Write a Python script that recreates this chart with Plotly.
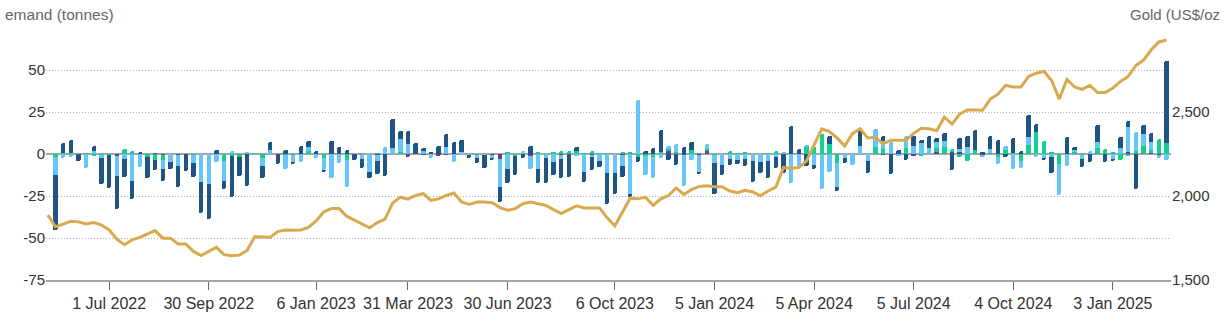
import pandas as pd
import plotly.graph_objects as go

# Weekly dates (Fridays)
bar_dates = pd.date_range("2022-05-13", periods=146, freq="7D")
line_dates = pd.date_range("2022-05-06", periods=147, freq="7D")

other = [0, 0, 0, -0.3, 0, 0, 0, 0, -1, 0,
         0, 0, 0, 0.5, -0.3, 0, -0.4, 0, 0, 0,
         0, 0, 0, 0, 0, 0, 0, 0, 0, -0.3,
         0, 0, 0, 0, 0, 0, 0.5, 0.5, 0, -0.3,
         0, 0, -0.7, 0, 0, 0, -1.5, 0, -0.4, 0,
         -1.2, -0.5, 0, 0, 0, 0, 0, -0.5, -3, 0,
         0, 0, -1, 0, 0, 0, -0.5, -0.5, 0, 0,
         -0.4, 0, 0, 0, -0.4, 0, 0, 0, 0, 0,
         1.5, -0.5, -0.8, 0, -0.8, 1.5, 0, 0, 0, 0,
         0, 0, 0, 0, 0, -0.3, 0, 0, 0, 0,
         0, 0, 0, 0, 0, 0, 0, 0, -0.5, 0,
         0, 0, -1, 0, 0, 1, 0.3, 1, 1, 0,
         0, -0.3, 0.3, 0.5, 0, 0, 0, 0, 0, 0,
         0, 0, 0, 0, 0, 0, 0.3, 0, 0, 0,
         1, 0, 0, 0.8, -0.3, 0]
asia = [-1.5, 0.5, 0.5, 0, 0.3, -0.7, -0.5, -0.3, 0, 3,
        2, 0, -2, -3.5, -3, 0, 0, 0, -0.5, 0,
        0, 0, -4.3, -1, -1.5, 0, 0.5, -2.3, 0, 0,
        -0.7, -0.8, 0, 2, 0, -2.3, 0, 0, -3.5, 0,
        -0.5, 0, 0.5, 0, 0, 1.4, 0, 0, 0, 0,
        0, 0, 0, 0, 0, -0.4, 0, 0, 0, 1,
        -1.4, 0, 0, 1, 0, 0.8, 1.6, 2, 2, 0.5,
        2, 0.3, 0.3, 0, 1.4, 1, -1.5, -1.4, -2, 1,
        1.2, 1, 0, 2.3, 0.5, 1.2, -0.5, 0, 1.5, 0.5,
        1, 0, 0, 0.4, 1.5, 0, 0.3, 0, 4.5, 4,
        11.7, 6, -5.2, 0, 0, 0, 0, 4, 3, 0,
        0, 3.3, 0, -1.3, 0.3, 2.7, 3.9, 2, -1.5, -3.9,
        2.3, 0, 0.4, -1.5, 2.3, 0.4, -3.9, 5.3, 13.3, 7.8,
        1, -6.2, 0, 1, -0.6, 0, 3.3, 2.9, 1, -3.7,
        -1, 1.5, 4.5, 1.4, 8.8, 6.8]
europe = [-11, -2.5, -1.5, 0, -8.5, 1.5, -2, 0, -12, -3,
          -16, -8, 0, 0, -5.7, -5, -7, 0, -5, -16.6,
          -17.8, -4.5, -11.7, 1.5, 0, 1, -0.3, -4.7, 2.5, 0,
          -8, -4, -4.5, 2, -2.5, -7.4, -14, -5.5, -16, 0,
          -2.5, -11, -3.5, 4, 3.5, 7.6, 5.8, 0, 1.5, -2.3,
          0.3, 4, -4.5, 1.2, -0.8, -2, -0.8, -2.2, -16.4, -9,
          0, 1.6, -8, -9, -2.5, -5, -2.5, 0, -0.6, -11,
          -1.4, -4.3, -11.5, -11.5, -6.7, -23.8, 32, -11.3, -12.5, -2.5,
          2, 4.7, -18.5, -3.3, -9.7, 3.3, -5, -6.3, -3, -3.3,
          -3, -4.3, -4.5, -4, -2, 1.4, -17.5, -7, 0.8, -6.8,
          -21, -10.5, -14.6, -2.2, -6.3, 4.5, -4, 10.8, 4.5, 7,
          -1, 7.4, 4.9, 6.4, 3.3, 3.5, 3.5, 0, 1.7, 3.9,
          0, -1.5, 2.5, -4.3, 2.5, -8.8, -4.7, 5.1, -2, -2.5,
          -1.5, -18.2, -7.4, 1.6, -2.3, 2, 3.5, 0, -3, 3.3,
          15, 11.5, 7.6, 4.9, -2.2, -3.5]
north_america = [-33, 6, 8, -4, 0, 3.5, -15.5, -20, -19.5, -10.5,
                 -10.5, 1.3, -12.5, -6, -6.8, -3.7, -12, -10.4, -8, -18.4,
                 -20.7, 2.5, -5, -24.5, -11.8, -19, 0, -7, 4.5, -5.5,
                 2.3, -1, 5, 4, 1.5, -0.5, 7, 3.5, 2.5, -3.5,
                 -5.3, -3, -7.6, -13, 17.5, 4.7, 7.8, 6.8, 1.8, 1,
                 4.3, 8.2, 7.4, 7, -1.5, -3, -7.5, -0.5, -9.4, -8,
                 -11, -2.3, 4.5, -8.5, -15, -7.5, -11, -13, 2.3, -5.7,
                 -7.8, -3.3, -18, -12.3, -6.5, -1.6, -3, 2, 3.5, 13,
                 -3.5, -6, 4, 5, -1.2, 0, -18.5, -6.3, -3.5, -2.7,
                 -4.3, -12.5, -7, -10, -6.5, -11, 16.6, 3, -7, -2,
                 0, 4.8, -2.1, -3, 0, 9.5, -7.5, 0, 3.2, -12,
                 2.5, -3.5, 5.8, 2, 7, 2.5, 4.7, -9.5, 7, 6.8,
                 11.7, 1, 7.8, 7.8, -1.5, 9.4, 2, 12.7, 4.3, -1.2,
                 -9.8, 0, 10.2, 1.4, -5, -4.5, 10.4, -4.5, -0.8, 7,
                 3.5, -21, 5, 5.3, 0, 48.4]

gold_price = [1886,
              1817, 1833, 1850, 1846, 1833, 1842, 1827, 1798, 1743, 1710,
              1739, 1754, 1774, 1794, 1749, 1749, 1715, 1715, 1670, 1645,
              1670, 1694, 1651, 1645, 1648, 1676, 1758, 1754, 1754, 1788,
              1798, 1796, 1798, 1813, 1852, 1905, 1925, 1925, 1880, 1856,
              1831, 1811, 1842, 1862, 1958, 1993, 1981, 2003, 2014, 1974,
              1983, 2003, 2018, 1964, 1950, 1964, 1964, 1960, 1931, 1915,
              1925, 1954, 1964, 1954, 1944, 1919, 1895, 1919, 1942, 1929,
              1929, 1929, 1870, 1821, 1905, 1987, 1983, 1993, 1944, 1983,
              2003, 2048, 2009, 2038, 2057, 2061, 2055, 2055, 2030, 2020,
              2034, 2024, 2001, 2030, 2053, 2169, 2165, 2169, 2208, 2306,
              2400, 2384, 2346, 2297, 2371, 2400, 2346, 2350, 2310, 2332,
              2334, 2332, 2373, 2403, 2400, 2388, 2469, 2428, 2487, 2512,
              2512, 2510, 2577, 2606, 2659, 2649, 2649, 2712, 2731, 2743,
              2688, 2577, 2694, 2649, 2635, 2659, 2616, 2616, 2643, 2682,
              2712, 2777, 2809, 2870, 2917, 2929]

x_tick_dates = ["2022-07-01", "2022-09-30", "2023-01-06", "2023-03-31", "2023-06-30",
                "2023-10-06", "2024-01-05", "2024-04-05", "2024-07-05", "2024-10-04",
                "2025-01-03"]
x_tick_labels = ["1 Jul 2022", "30 Sep 2022", "6 Jan 2023", "31 Mar 2023", "30 Jun 2023",
                 "6 Oct 2023", "5 Jan 2024", "5 Apr 2024", "5 Jul 2024", "4 Oct 2024",
                 "3 Jan 2025"]
y_ticks = [-75, -50, -25, 0, 25, 50, 75]
y_tick_labels = ["-75", "-50", "-25", "0", "25", "50", ""]
y2_ticks = [1500, 2000, 2500, 3000]
y2_tick_labels = ["1,500", "2,000", "2,500", ""]
left_title = "emand (tonnes)"
right_title = "Gold (US$/oz"

FONT = "Liberation Sans, Arial, Helvetica, sans-serif"
bar_w = 4.0 * 86400000

series = [
    ("Other", other, "#6b3d8d"),
    ("Asia", asia, "#12d08e"),
    ("Europe", europe, "#66c6fc"),
    ("North America", north_america, "#1f5582"),
]

fig = go.Figure()
for name, vals, col in series:
    fig.add_trace(go.Bar(x=bar_dates, y=vals, name=name, marker_color=col,
                         marker_line_width=0, width=bar_w, yaxis="y"))

fig.add_trace(go.Scatter(x=line_dates, y=gold_price, name="Gold", mode="lines",
                         line=dict(color="#d8aa4f", width=3), yaxis="y2"))

fig.update_layout(
    width=1225, height=324,
    margin=dict(l=46, r=54, t=28, b=40),
    paper_bgcolor="white", plot_bgcolor="white",
    barmode="relative", bargap=0, barcornerradius=2,
    showlegend=False,
    font=dict(family=FONT, color="#333333"),
    xaxis=dict(type="date", range=["2022-05-04 07:00", "2025-02-25 02:00"],
               tickvals=x_tick_dates, ticktext=x_tick_labels,
               tickfont=dict(size=16, color="#333333"),
               ticks="outside", ticklen=8, tickcolor="#666666", tickwidth=1,
               showline=True, linecolor="#a6a6a6", linewidth=2,
               showgrid=False, zeroline=False),
    yaxis=dict(range=[-75, 75], tickvals=y_ticks, ticktext=y_tick_labels,
               tickfont=dict(size=15, color="#333333"),
               showgrid=True, gridcolor="#b0b0b0", griddash="1px,2px", gridwidth=1,
               zeroline=True, zerolinecolor="#a6a6a6", zerolinewidth=2,
               showline=False),
    yaxis2=dict(range=[1500, 3000], overlaying="y", side="right",
                tickvals=y2_ticks, ticktext=y2_tick_labels,
                tickfont=dict(size=15, color="#333333"),
                showgrid=False, zeroline=False, showline=False),
    annotations=[
        dict(text=left_title, xref="paper", yref="paper",
             x=(3 - 46) / 1125, y=(284 - 14) / 256, xanchor="left", yanchor="middle",
             showarrow=False, font=dict(size=15.5, color="#666666", family=FONT)),
        dict(text=right_title, xref="paper", yref="paper",
             x=(1222 - 46) / 1125, y=(284 - 14) / 256, xanchor="right", yanchor="middle",
             showarrow=False, font=dict(size=15, color="#666666", family=FONT)),
    ],
)

fig.write_html("out.html")
